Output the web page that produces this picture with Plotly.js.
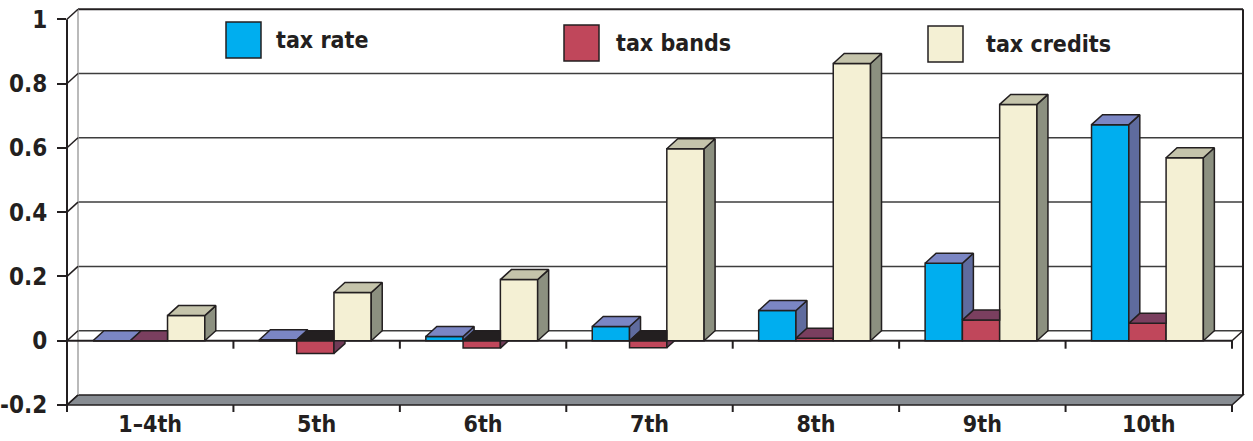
<!DOCTYPE html>
<html>
<head>
<meta charset="utf-8">
<script src="https://cdn.plot.ly/plotly-3.0.1.min.js"></script>
<style>html,body{margin:0;padding:0;background:#fff;}#chart{width:1253px;height:441px;}</style>
</head>
<body>
<div id="chart"></div>
<script>
// ---- data ----
const categories = ["1–4th", "5th", "6th", "7th", "8th", "9th", "10th"];
const seriesNames = ["tax rate", "tax bands", "tax credits"];
const taxRate    = [0, 0.003, 0.013, 0.044, 0.094, 0.241, 0.672];
const taxBands   = [0, -0.040, -0.023, -0.022, 0.008, 0.064, 0.054];
const taxCredits = [0.078, 0.150, 0.190, 0.597, 0.862, 0.735, 0.569];
const yTickVals = [-0.2, 0, 0.2, 0.4, 0.6, 0.8, 1];
const yTickText = ["-0.2", "0", "0.2", "0.4", "0.6", "0.8", "1"];

// ---- styles ----
const FONT = "'Liberation Sans Narrow', 'DejaVu Sans Condensed', 'Arial Narrow', sans-serif";
const INK = "#231f20";
const frontCol = ["#00aeef", "#c0475b", "#f4f0d4"];
const topCol   = ["#7b86c4", "#7a3f5f", "#c5c4ab"];
const sideCol  = ["#5f6b9e", "#6f3b57", "#8c9080"];
const negTopCol = "#231f20";

// ---- geometry ----
const W = 1253, H = 441;
const M = {l: 67, r: 10, t: 9, b: 36};
const plotW = W - M.l - M.r, plotH = H - M.t - M.b;
const pxX = 1165 / categories.length;     // px per category
const pxY = 321.5;                        // px per y unit
const xMin = 0, xMax = plotW / pxX;
const yMin = -0.2, yMax = yMin + plotH / pxY;
const DX = 11, DY = 10;                   // depth offset in px
const dxU = DX / pxX, dyU = DY / pxY;
const barW = 0.224, firstOff = -0.344;

const series = [taxRate, taxBands, taxCredits];
const xc = categories.map((c, i) => i + 0.5);

// pixel helpers for decoration (paper coords)
const PX = x => M.l + (x - xMin) * pxX;
const PY = y => H - M.b - (y - yMin) * pxY;
const xp = px => (px - M.l) / plotW;
const yp = py => (H - M.b - py) / plotH;

// ---- polygon utils ----
function clip(poly, axis, sign, c) {
  const out = [];
  const n = poly.length;
  if (!n) return out;
  for (let i = 0; i < n; i++) {
    const a = poly[i], b = poly[(i + 1) % n];
    const da = sign * (a[axis] - c), db = sign * (b[axis] - c);
    if (da >= 0) out.push(a);
    if ((da >= 0) !== (db >= 0)) {
      const t = da / (da - db);
      out.push([a[0] + t * (b[0] - a[0]), a[1] + t * (b[1] - a[1])]);
    }
  }
  return out;
}
function area(poly) {
  let s = 0;
  for (let i = 0; i < poly.length; i++) {
    const a = poly[i], b = poly[(i + 1) % poly.length];
    s += a[0] * b[1] - b[0] * a[1];
  }
  return Math.abs(s / 2) * pxX * pxY;
}
function subtractRect(poly, r) {
  const xs = poly.map(p => p[0]), ys = poly.map(p => p[1]);
  const e = 1e-9;
  if (r.y1 - r.y0 < e || Math.max(...xs) <= r.x0 + e || Math.min(...xs) >= r.x1 - e ||
      Math.min(...ys) >= r.y1 - e || Math.max(...ys) <= r.y0 + e) return [poly];
  const pieces = [];
  const A = clip(poly, 0, -1, r.x0);
  const Bm = clip(clip(poly, 0, 1, r.x0), 0, -1, r.x1);
  const up = clip(Bm, 1, 1, r.y1);
  const dn = clip(Bm, 1, -1, r.y0);
  const C = clip(poly, 0, 1, r.x1);
  [A, up, dn, C].forEach(p => { if (p.length > 2 && area(p) > 0.5) pieces.push(p); });
  return pieces;
}
function polyTrace(pieces, fill) {
  const x = [], y = [];
  pieces.forEach((p, k) => {
    if (k) { x.push(null); y.push(null); }
    p.forEach(q => { x.push(q[0]); y.push(q[1]); });
    x.push(p[0][0]); y.push(p[0][1]);
  });
  return {type: "scatter", mode: "lines", x, y, fill: "toself", fillcolor: fill,
          line: {color: INK, width: 1.5}, hoverinfo: "skip", showlegend: false};
}

// ---- traces ----
const traces = [];
series.forEach((vals, j) => {
  traces.push({
    type: "bar", name: seriesNames[j], x: xc, y: vals,
    offset: firstOff + j * barW, width: barW,
    marker: {color: frontCol[j], line: {color: INK, width: 1.5}},
    showlegend: false, hovertemplate: "%{y}<extra>" + seriesNames[j] + "</extra>"
  });
});
categories.forEach((c, i) => {
  series.forEach((vals, j) => {
    const v = vals[i];
    const x0 = xc[i] + firstOff + j * barW, x1 = x0 + barW;
    const h = Math.max(v, 0), b = Math.min(v, 0);
    let side = [[x1, b], [x1, h], [x1 + dxU, h + dyU], [x1 + dxU, b + dyU]];
    let top = [[x0, h], [x1, h], [x1 + dxU, h + dyU], [x0 + dxU, h + dyU]];
    let sidePieces = [side], topPieces = [top];
    if (j + 1 < series.length) {
      const v2 = series[j + 1][i];
      const r = {x0: x1, x1: x1 + barW, y0: Math.min(0, v2), y1: Math.max(0, v2)};
      sidePieces = subtractRect(side, r);
      topPieces = subtractRect(top, r);
    }
    if (sidePieces.length && Math.abs(v) > 1e-9) traces.push(polyTrace(sidePieces, sideCol[j]));
    if (topPieces.length) traces.push(polyTrace(topPieces, v < 0 ? negTopCol : topCol[j]));
  });
});

// ---- decoration shapes (paper coords) ----
const shapes = [];
function line(x0, y0, x1, y1, color, width, layer) {
  shapes.push({type: "line", xref: "paper", yref: "paper", x0: xp(x0), y0: yp(y0), x1: xp(x1), y1: yp(y1),
               line: {color, width}, layer: layer || "below"});
}
const xL = PX(0), xR = PX(categories.length);
const yBot = PY(yMin), yTop = PY(1);
shapes.push({type: "path", xref: "paper", yref: "paper", layer: "below",
  path: `M${xp(xL)},${yp(yBot)} L${xp(xR)},${yp(yBot)} L${xp(xR + DX)},${yp(yBot - DY)} L${xp(xL + DX)},${yp(yBot - DY)} Z`,
  fillcolor: "#878c92", line: {color: INK, width: 1.5}});
yTickVals.forEach(t => {
  if (t === yMin) return;
  line(xL + DX, PY(t) - DY, xR + DX, PY(t) - DY, t === 1 ? INK : "#3d3d3d", t === 1 ? 2 : 1.5);
});
line(xL + DX, yTop - DY, xL + DX, yBot - DY, "#a3a3a3", 1.5);
line(xR + DX, yTop - DY, xR + DX, yBot - DY, INK, 2);
line(xL, yBot, xL, yTop, INK, 2);
yTickVals.forEach(t => line(xL, PY(t), xL + DX, PY(t) - DY, INK, 1.5));
line(xL, PY(0), xR, PY(0), INK, 2);
line(xR, PY(0), xR + DX, PY(0) - DY, INK, 1.5);
for (let k = 0; k <= categories.length; k++) {
  line(PX(k), PY(0), PX(k), PY(0) + 8, INK, 2);
  line(PX(k), yBot, PX(k), yBot + 7, INK, 2);
}

// ---- legend (shapes + annotations) ----
const legendPos = [[226, 22, 274], [564, 25, 614], [928, 26, 984]];
const annotations = [];
seriesNames.forEach((n, j) => {
  const [lx, ly, tx] = legendPos[j];
  shapes.push({type: "rect", xref: "paper", yref: "paper", layer: "above",
    x0: xp(lx), x1: xp(lx + 35), y0: yp(ly), y1: yp(ly + 36),
    fillcolor: frontCol[j], line: {color: INK, width: 1.5}});
  annotations.push({xref: "paper", yref: "paper", x: xp(tx), y: yp(ly + 18), xanchor: "left", yanchor: "middle",
    text: n, showarrow: false, font: {family: FONT, size: 23, color: INK, weight: "bold"}});
});

const layout = {
  width: W, height: H, margin: M,
  paper_bgcolor: "#ffffff", plot_bgcolor: "rgba(0,0,0,0)",
  showlegend: false, barmode: "overlay",
  xaxis: {range: [xMin, xMax], tickvals: xc, ticktext: categories, ticks: "", showgrid: false,
          zeroline: false, showline: false, ticklabelstandoff: 3,
          tickfont: {family: FONT, size: 23, color: INK, weight: "bold"}},
  yaxis: {range: [yMin, yMax], tickvals: yTickVals, ticktext: yTickText, ticks: "outside", ticklen: 9,
          tickwidth: 2, tickcolor: INK, showgrid: false, zeroline: false, showline: false,
          ticklabelstandoff: 5,
          tickfont: {family: FONT, size: 24, color: INK, weight: "bold"}},
  shapes, annotations
};
Plotly.newPlot("chart", traces, layout, {displayModeBar: false, staticPlot: true});
</script>
</body>
</html>
